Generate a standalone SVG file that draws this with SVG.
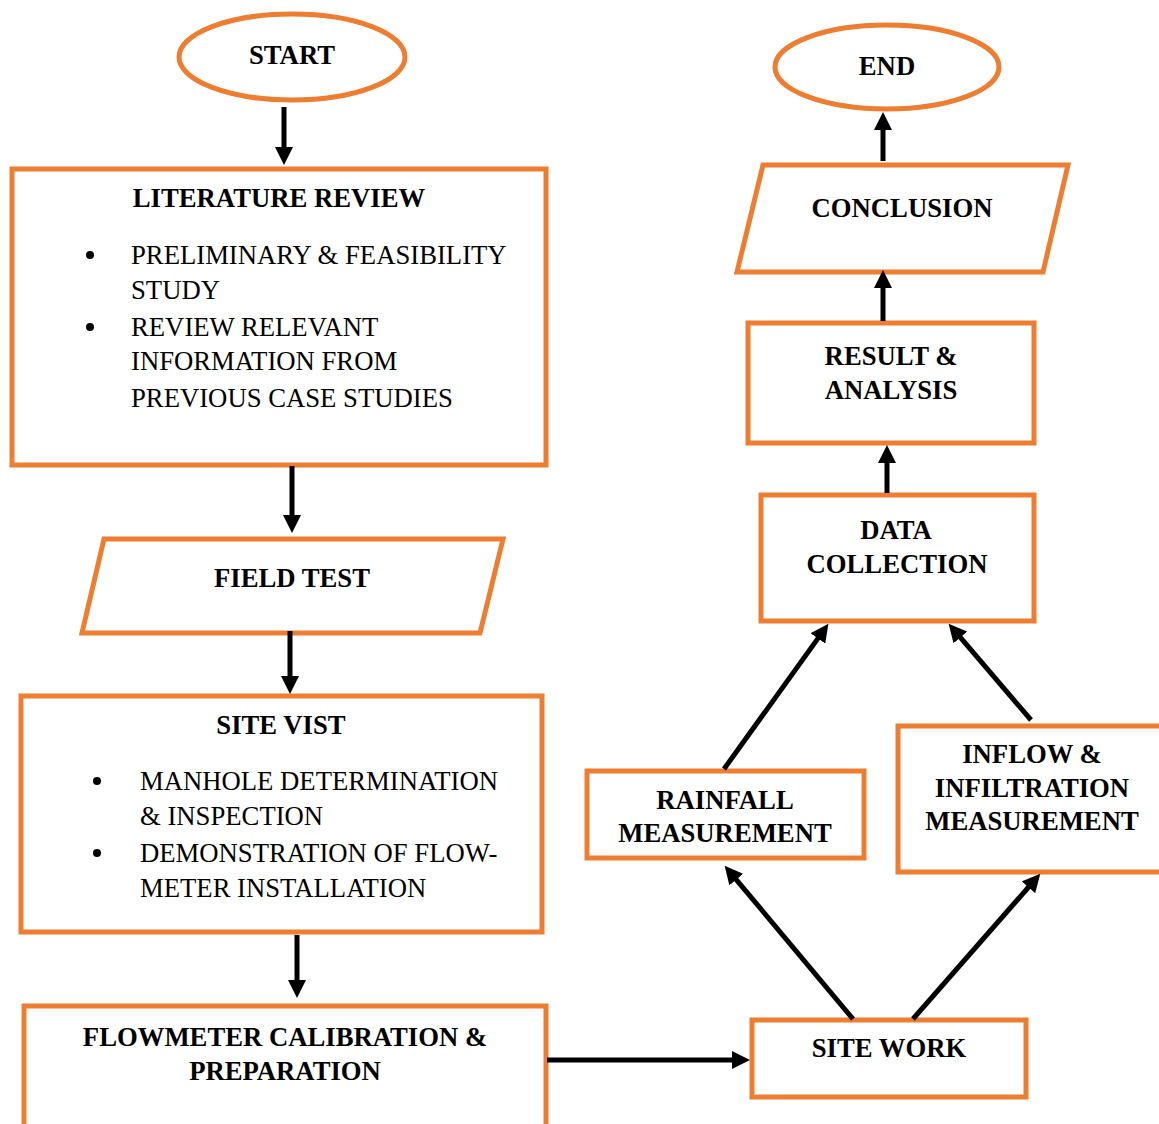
<svg xmlns="http://www.w3.org/2000/svg" width="1159" height="1124" viewBox="0 0 1159 1124">
<style>
.n{fill:#fff;stroke:#ED7D31;stroke-width:5}
.t{font-family:"Liberation Serif","Times New Roman",serif;font-size:26.7px;font-weight:bold;fill:#000;text-anchor:middle}
.r{font-family:"Liberation Serif","Times New Roman",serif;font-size:26.7px;fill:#000}
.c{stroke:#000;stroke-width:5;fill:none;marker-end:url(#ah)}
</style>
<defs>
<marker id="ah" markerUnits="userSpaceOnUse" viewBox="0 0 18 18" markerWidth="18" markerHeight="18" refX="1" refY="9" orient="auto">
<path d="M0,0 L18,9 L0,18 z" fill="#000"/>
</marker>
</defs>
<rect width="1159" height="1124" fill="#fff"/>
<g id="start"><ellipse class="n" cx="292" cy="57" rx="113" ry="43"/><text class="t" x="292" y="64">START</text></g>
<g id="literature"><rect class="n" x="12" y="169" width="534" height="296"/>
<text class="t" x="279" y="207">LITERATURE REVIEW</text>
<circle cx="90" cy="255" r="4"/><circle cx="90" cy="327" r="4"/>
<text class="r" x="131" y="263.5">PRELIMINARY &amp; FEASIBILITY</text>
<text class="r" x="131" y="298.5">STUDY</text>
<text class="r" x="131" y="335.5">REVIEW RELEVANT</text>
<text class="r" x="131" y="369.5">INFORMATION FROM</text>
<text class="r" x="131" y="406.5">PREVIOUS CASE STUDIES</text></g>
<g id="fieldtest"><polygon class="n" points="104,539 503,539 480,633 82,633"/><text class="t" x="292" y="587">FIELD TEST</text></g>
<g id="sitevisit"><rect class="n" x="21" y="696" width="521" height="236"/>
<text class="t" x="281" y="734">SITE VIST</text>
<circle cx="97" cy="781" r="4"/><circle cx="97" cy="853" r="4"/>
<text class="r" x="140" y="790">MANHOLE DETERMINATION</text>
<text class="r" x="140" y="825">&amp; INSPECTION</text>
<text class="r" x="140" y="862">DEMONSTRATION OF FLOW-</text>
<text class="r" x="140" y="897">METER INSTALLATION</text></g>
<g id="flowmeter"><rect class="n" x="24" y="1006" width="522" height="130"/>
<text class="t" x="285" y="1046">FLOWMETER CALIBRATION &amp;</text>
<text class="t" x="285" y="1080">PREPARATION</text></g>
<g id="sitework"><rect class="n" x="752" y="1020" width="274" height="77"/><text class="t" x="889" y="1057">SITE WORK</text></g>
<g id="rainfall"><rect class="n" x="587" y="771" width="277" height="87"/>
<text class="t" x="725" y="809">RAINFALL</text><text class="t" x="725" y="842">MEASUREMENT</text></g>
<g id="inflow"><rect class="n" x="898" y="726" width="280" height="146"/>
<text class="t" x="1032" y="763">INFLOW &amp;</text><text class="t" x="1032" y="797">INFILTRATION</text><text class="t" x="1032" y="830">MEASUREMENT</text></g>
<g id="data"><rect class="n" x="761" y="495" width="273" height="126"/>
<text class="t" x="896" y="539">DATA</text><text class="t" x="897" y="573">COLLECTION</text></g>
<g id="result"><rect class="n" x="748" y="323" width="286" height="120"/>
<text class="t" x="891" y="365">RESULT &amp;</text><text class="t" x="891" y="399">ANALYSIS</text></g>
<g id="conclusion"><polygon class="n" points="763,165 1068,165 1043,272 737,272"/><text class="t" x="902" y="217">CONCLUSION</text></g>
<g id="end"><ellipse class="n" cx="887" cy="67" rx="112" ry="42"/><text class="t" x="887" y="75">END</text></g>
<g id="connectors">
<line class="c" x1="284" y1="107" x2="284" y2="148"/>
<line class="c" x1="292" y1="466" x2="292" y2="516"/>
<line class="c" x1="290" y1="631" x2="290" y2="677"/>
<line class="c" x1="297" y1="935" x2="297" y2="981"/>
<line class="c" x1="547" y1="1060" x2="733" y2="1060"/>
<line class="c" x1="853" y1="1019" x2="735.6" y2="878.8"/>
<line class="c" x1="913" y1="1019" x2="1029.1" y2="886.5"/>
<line class="c" x1="724" y1="769" x2="818.5" y2="637.6"/>
<line class="c" x1="1031" y1="720" x2="959.7" y2="636.7"/>
<line class="c" x1="887" y1="493" x2="887" y2="462"/>
<line class="c" x1="883" y1="321" x2="883" y2="287"/>
<line class="c" x1="883" y1="161" x2="883" y2="129"/>
</g>
</svg>
